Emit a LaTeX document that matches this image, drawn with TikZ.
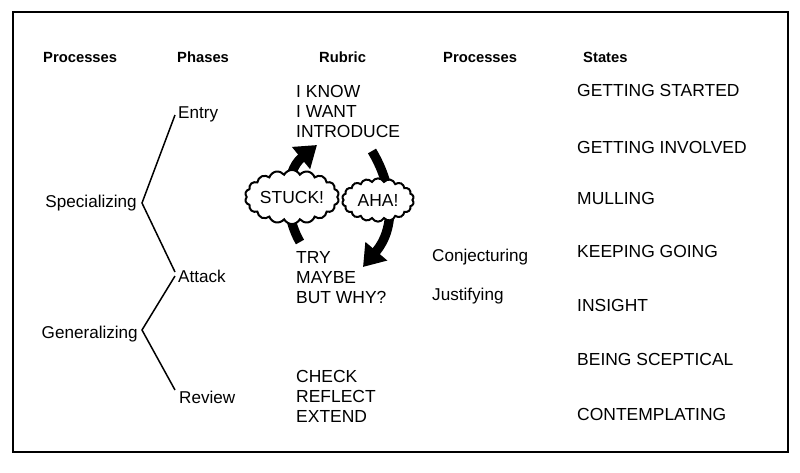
\documentclass[tikz,border=0pt]{standalone}
\usepackage{fontspec}
\setmainfont{Liberation Sans}
\usetikzlibrary{arrows.meta}
\usetikzlibrary{shapes.symbols}

\begin{document}
\begin{tikzpicture}[x=0.03cm,y=-0.03cm,
        head/.style={inner sep=0pt,anchor=base west,font=\bfseries\fontsize{12.6}{14}\selectfont},
        word/.style={inner sep=0pt,anchor=base west,font=\fontsize{14.6}{17}\selectfont},
        caps/.style={inner sep=0pt,anchor=base west,font=\fontsize{14.9}{17}\selectfont},
        branch/.style={line width=0.045cm},
        turn/.style={line width=0.28cm,-{Triangle[length=0.62cm,width=0.82cm]}},
        puff/.style={cloud,draw,fill=white,line width=0.06cm,cloud puffs=18,cloud puff arc=125,
                     aspect=2,inner sep=0pt,minimum width=2.7cm,minimum height=1.35cm,
                     font=\fontsize{14.9}{17}\selectfont}]
        \useasboundingbox (0,0) rectangle (800,473);

        % Frame
        \draw [line width=0.07cm] (13,12) rectangle (788,452);%

        % Column heads
        \node [head] (hproc) at (43,62) {Processes};%
        \node [head] (hphase) at (177,62) {Phases};%
        \node [head] (hrubric) at (319,62) {Rubric};%
        \node [head] (hproc2) at (443,62) {Processes};%
        \node [head] (hstate) at (583,62) {States};%

        % Phases
        \node [word] (entry) at (178,118) {Entry};%
        \node [word] (attack) at (178,282) {Attack};%
        \node [word] (review) at (179,403) {Review};%

        % Processes
        \node [word,anchor=base east] (spec) at (137,207) {Specializing};%
        \node [word,anchor=base east] (gener) at (138,338) {Generalizing};%

        % Branch points
        \coordinate (vspec) at (142,203);%
        \coordinate (vgener) at (142,330);%
        \coordinate (tentry) at (175,115);%
        \coordinate (tattacka) at (175,272);%
        \coordinate (tattackb) at (175,276);%
        \coordinate (treview) at (175,390);%

        % Drawing branches
        \draw [branch] (tentry) -- (vspec) -- (tattacka);%
        \draw [branch] (tattackb) -- (vgener) -- (treview);%

        % Rubric
        \node [caps] (know) at (296,97) {I KNOW};%
        \node [caps] (want) at (296,117) {I WANT};%
        \node [caps] (intro) at (296,137) {INTRODUCE};%
        \node [caps] (try) at (296,263) {TRY};%
        \node [caps] (maybe) at (296,283) {MAYBE};%
        \node [caps] (why) at (296,303) {BUT WHY?};%
        \node [caps] (check) at (296,382) {CHECK};%
        \node [caps] (reflect) at (296,402) {REFLECT};%
        \node [caps] (extend) at (296,422) {EXTEND};%

        % Processes in the attack
        \node [word] (conj) at (432,261) {Conjecturing};%
        \node [word] (just) at (432,300) {Justifying};%

        % States
        \node [caps] (started) at (577,96) {GETTING STARTED};%
        \node [caps] (involved) at (577,153) {GETTING INVOLVED};%
        \node [caps] (mulling) at (577,204) {MULLING};%
        \node [caps] (keeping) at (577,257) {KEEPING GOING};%
        \node [caps] (insight) at (577,311) {INSIGHT};%
        \node [caps] (sceptic) at (577,365) {BEING SCEPTICAL};%
        \node [caps] (contemp) at (577,420) {CONTEMPLATING};%

        % Turning arrows
        \coordinate (upfoot) at (300,242);%
        \coordinate (uptip) at (317,145);%
        \coordinate (downfoot) at (372,151);%
        \coordinate (downtip) at (363,267);%
        \draw [turn] (upfoot) .. controls (284,215) and (284,172) .. (uptip);%
        \draw [turn] (downfoot) .. controls (394,188) and (396,228) .. (downtip);%

        % Clouds
        \node [puff] (stuck) at (292,197) {STUCK!};%
        \node [puff,minimum width=2.15cm,minimum height=1.3cm] (aha) at (378,200) {AHA!};%
\end{tikzpicture}
\end{document}
